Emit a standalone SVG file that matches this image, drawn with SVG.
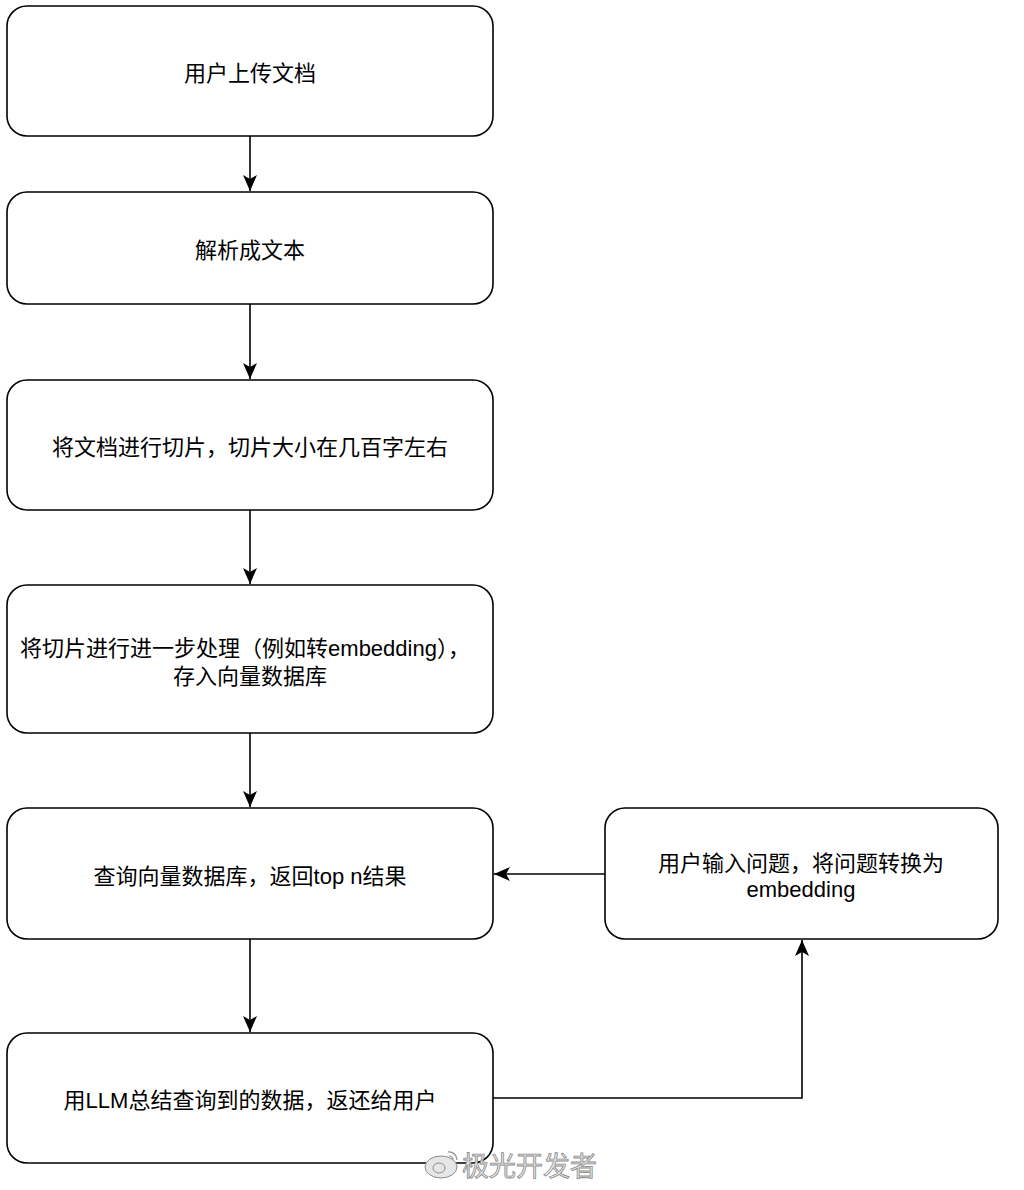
<svg xmlns="http://www.w3.org/2000/svg" width="1024" height="1190" viewBox="0 0 1024 1190">
<style>
.box{fill:#fff;stroke:#000;stroke-width:1.6}
.lbl{font-family:"Liberation Sans","Noto Sans CJK SC",sans-serif;font-size:22px;fill:#000;text-anchor:middle}
.edge{fill:none;stroke:#000;stroke-width:1.6}
.wm{font-family:"Noto Sans CJK SC",sans-serif;font-size:27px;fill:#e6e6e6;stroke:#8c8c8c;stroke-width:0.8}
</style>
<defs>
<marker id="arr" markerUnits="userSpaceOnUse" markerWidth="18" markerHeight="18" viewBox="0 0 18 18" refX="17" refY="9" orient="auto">
<path d="M1,2 L17,9 L1,16 L5,9 z" fill="#000"/>
</marker>
</defs>
<rect width="1024" height="1190" fill="#fff"/>
<g id="edges">
<path class="edge" d="M250,136 V191" marker-end="url(#arr)"/>
<path class="edge" d="M250,304 V379" marker-end="url(#arr)"/>
<path class="edge" d="M250,510 V584" marker-end="url(#arr)"/>
<path class="edge" d="M250,733 V807" marker-end="url(#arr)"/>
<path class="edge" d="M250,939 V1032" marker-end="url(#arr)"/>
<path class="edge" d="M605,874 H494" marker-end="url(#arr)"/>
<path class="edge" d="M493,1098 H802 V940" marker-end="url(#arr)"/>
</g>
<g id="n1"><rect class="box" x="7" y="6" width="486" height="130" rx="20"/><text class="lbl" x="250" y="81">用户上传文档</text></g>
<g id="n2"><rect class="box" x="7" y="192" width="486" height="112" rx="20"/><text class="lbl" x="250" y="258">解析成文本</text></g>
<g id="n3"><rect class="box" x="7" y="380" width="486" height="130" rx="20"/><text class="lbl" x="250" y="455">将文档进行切片，切片大小在几百字左右</text></g>
<g id="n4"><rect class="box" x="7" y="585" width="486" height="148" rx="20"/><text class="lbl" x="245" y="656">将切片进行进一步处理（例如转embedding），</text><text class="lbl" x="250" y="684">存入向量数据库</text></g>
<g id="n5"><rect class="box" x="7" y="808" width="486" height="131" rx="20"/><text class="lbl" x="250" y="884">查询向量数据库，返回top n结果</text></g>
<g id="n6"><rect class="box" x="7" y="1033" width="486" height="130" rx="20"/><text class="lbl" x="250" y="1108">用LLM总结查询到的数据，返还给用户</text></g>
<g id="n7"><rect class="box" x="605" y="808" width="393" height="131" rx="20"/><text class="lbl" x="801" y="871">用户输入问题，将问题转换为</text><text class="lbl" x="801" y="897">embedding</text></g>
<g id="watermark">
<ellipse cx="441" cy="1167" rx="16" ry="11" fill="#e6e6e6" stroke="#8c8c8c" stroke-width="1"/>
<ellipse cx="439" cy="1168" rx="6" ry="5" fill="none" stroke="#8c8c8c" stroke-width="1"/>
<path d="M448,1152 a8,8 0 0 1 9,8 M449,1156 a4,4 0 0 1 4,4" fill="none" stroke="#8c8c8c" stroke-width="1.2"/>
<text class="wm" x="462" y="1176">极光开发者</text>
</g>
</svg>
